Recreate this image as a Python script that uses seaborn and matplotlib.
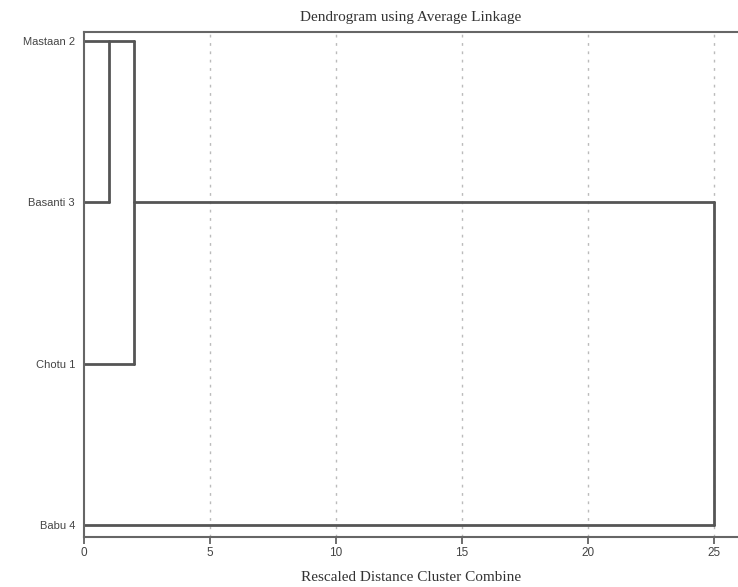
import matplotlib
matplotlib.use("Agg")
import matplotlib.pyplot as plt
import seaborn as sns
import pandas as pd

leaves = ["Mastaan 2", "Basanti 3", "Chotu 1", "Babu 4"]
merge_dist = [1, 2, 25]          # rescaled distances of the three merges
xticks = [0, 5, 10, 15, 20, 25]

d1, d2, d3 = merge_dist
y = {name: i for i, name in enumerate(leaves)}
segs = [
    [(0, y["Mastaan 2"]), (d2, y["Mastaan 2"])],
    [(d1, y["Mastaan 2"]), (d1, y["Basanti 3"])],
    [(0, y["Basanti 3"]), (d1, y["Basanti 3"])],
    [(d2, y["Mastaan 2"]), (d2, y["Chotu 1"])],
    [(0, y["Chotu 1"]), (d2, y["Chotu 1"])],
    [(d2, y["Basanti 3"]), (d3, y["Basanti 3"])],
    [(0, y["Babu 4"]), (d3, y["Babu 4"])],
    [(d3, y["Basanti 3"]), (d3, y["Babu 4"])],
]
rows = []
for i, s in enumerate(segs):
    for k, (xx, yy) in enumerate(s):
        rows.append({"seg": i, "order": k, "x": xx, "y": yy})
df = pd.DataFrame(rows)

sns.set_style("white")
fig = plt.figure(figsize=(7.38, 5.87), dpi=100)
ax = fig.add_axes([84 / 738, 1 - 537 / 587, 1 - 84 / 738, (537 - 32) / 587])

for xv in xticks[1:]:
    ax.axvline(xv, color="#bbbbbb", lw=1.0, ls=(0, (2, 4)), zorder=0)

sns.lineplot(data=df, x="x", y="y", units="seg", estimator=None, sort=False,
             color="#555555", lw=2.0, ax=ax, legend=False)

ax.set_xlim(0, (738 - 84) / 25.2)
ax.set_ylim((537 - 41) / 161.3, (32 - 41) / 161.3)
ax.set_xticks(xticks)
ax.set_xticklabels([str(t) for t in xticks], fontsize=8.5, family="Liberation Sans", color="#444444")
ax.set_yticks(range(len(leaves)))
ax.set_yticklabels(leaves, fontsize=8, family="Liberation Sans", color="#444444")
ax.tick_params(axis="x", bottom=True, length=5, width=1.2, color="#555555", pad=2)
ax.tick_params(axis="y", left=False, pad=3)
ax.set_xlabel("Rescaled Distance Cluster Combine", fontsize=11, family="Liberation Serif",
              color="#333333", labelpad=9)
ax.set_ylabel("")
ax.set_title("Dendrogram using Average Linkage", fontsize=11, family="Liberation Serif",
             color="#333333", pad=8)
for side in ["left", "top", "bottom"]:
    ax.spines[side].set_color("#666666")
    ax.spines[side].set_linewidth(1.5)
ax.spines["right"].set_visible(False)

fig.savefig("out.png", dpi=100)
